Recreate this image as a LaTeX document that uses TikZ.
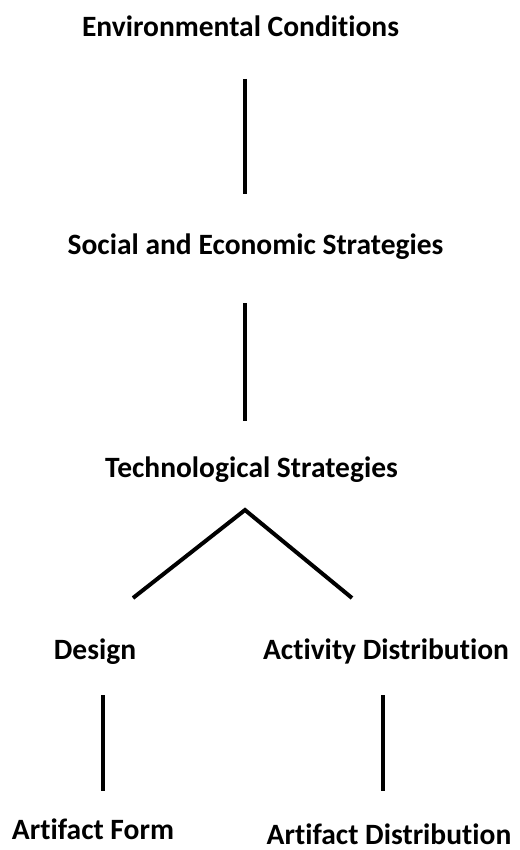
\documentclass[tikz,border=0pt]{standalone}
\usepackage{fontspec}
\setmainfont{Carlito}[Ligatures=CommonOff]
\usetikzlibrary{positioning}
\tikzset{
  level/.style={anchor=base,inner sep=0pt,font=\fontsize{14.75pt}{17pt}\selectfont\bfseries},
  link/.style={line width=2pt}
}
\begin{document}
\begin{tikzpicture}[x=0.5pt,y=-0.5pt]
\useasboundingbox (0,0) rectangle (519,850);
% text levels
\node (env) [level] at (240.5,37) {Environmental Conditions};
\node (soc) [level] at (255.5,255) {Social and Economic Strategies};
\node (tech) [level] at (251.5,477) {Technological Strategies};
\node (design) [level] at (95,659) {Design};
\node (activity) [level] at (386,659) {Activity Distribution};
\node (form) [level] at (93,839) {Artifact Form};
\node (dist) [level] at (389,844) {Artifact Distribution};
% line ends
\coordinate (envlow) at (245,79);
\coordinate (socup) at (245,194);
\coordinate (soclow) at (245,303);
\coordinate (techup) at (245,421);
\coordinate (apex) at (245,510);
\coordinate (designup) at (133,598);
\coordinate (activityup) at (352,598);
\coordinate (designlow) at (103,695);
\coordinate (formup) at (103,791);
\coordinate (activitylow) at (383,695);
\coordinate (distup) at (383,791);
\draw[link] (envlow) -- (socup);
\draw[link] (soclow) -- (techup);
\draw[link] (designup) -- (apex) -- (activityup);
\draw[link] (designlow) -- (formup);
\draw[link] (activitylow) -- (distup);
\end{tikzpicture}
\end{document}
